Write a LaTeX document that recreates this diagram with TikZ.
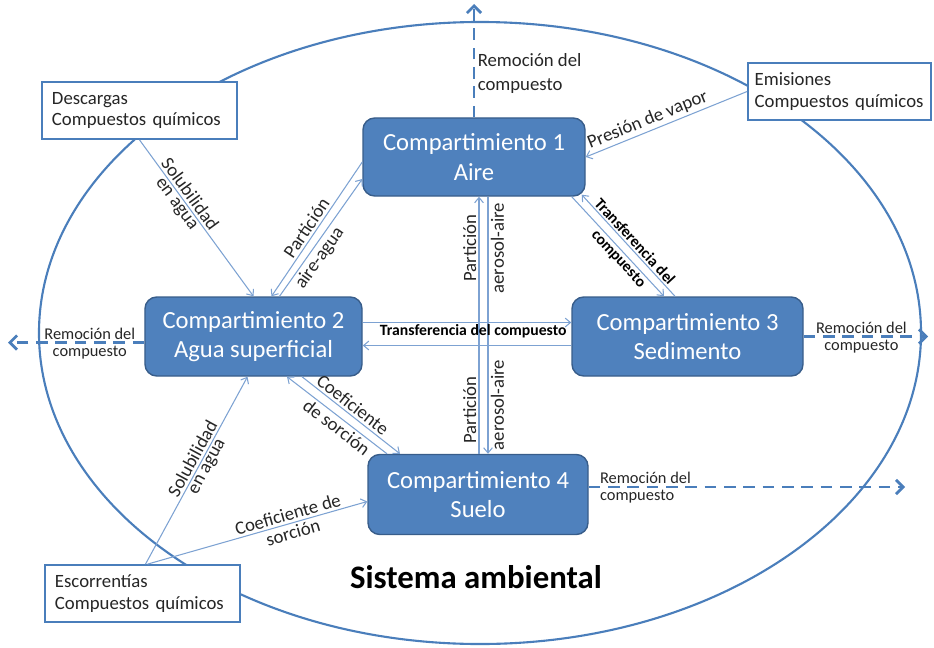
\documentclass[tikz,border=0pt]{standalone}
\usepackage{fontspec}
\setmainfont{Carlito}
\usetikzlibrary{arrows.meta,calc}
\definecolor{boxfill}{RGB}{79,129,189}
\definecolor{boxline}{RGB}{56,93,138}
\definecolor{ringblue}{RGB}{74,126,187}
\definecolor{connblue}{RGB}{125,162,210}
\definecolor{labelgray}{RGB}{38,38,38}
\begin{document}
\begin{tikzpicture}[x=0.03cm,y=-0.03cm,
  comp/.style={draw=boxline, line width=1.2pt, fill=boxfill, rounded corners=10pt,
    text=white, align=center, font=\fontsize{21}{25}\selectfont,
    minimum height=2.37cm, inner sep=0pt},
  src/.style={draw=ringblue, line width=1.5pt, fill=white, text=labelgray, align=left,
    font=\fontsize{16}{18.5}\selectfont, minimum height=1.71cm, inner xsep=0.3cm, inner ysep=0pt},
  conn/.style={draw=connblue, line width=0.9pt, >={Straight Barb[length=4.5pt,width=7.5pt]}},
  lab/.style={font=\fontsize{16}{18}\selectfont, text=labelgray, inner sep=2pt},
  blab/.style={font=\bfseries\fontsize{13.4}{15}\selectfont, text=black, inner sep=1.5pt},
  rem/.style={draw=ringblue, line width=2.4pt, dash pattern=on 10pt off 6.5pt,
    >={Straight Barb[length=6pt,width=12pt]}},
  remlab/.style={font=\fontsize{14}{15}\selectfont, text=labelgray, inner sep=1.5pt},
  ring/.style={draw=ringblue, line width=1.8pt}
]
\useasboundingbox (0,0) rectangle (934,647);

% environmental system boundary
\draw[ring] (480,333) ellipse [x radius=13.23cm, y radius=9.33cm];

% compartments
\node[comp, minimum width=6.66cm, minimum height=2.34cm] (c1) at (474,157) {Compartimiento 1\\Aire};
\node[comp, minimum width=6.51cm] (c2) at (253.5,336.5) {Compartimiento 2\\Agua superficial};
\node[comp, minimum width=6.93cm] (c3) at (687.5,336.5) {Compartimiento 3\\Sedimento};
\node[comp, minimum width=6.6cm, minimum height=2.4cm] (c4) at (478,494.5) {Compartimiento 4\\Suelo};

% sources
\node[src, text width=5.25cm] (desc) at (139.5,110.5) {Descargas\\Compuestos químicos};
\node[src, inner xsep=0.2cm, text width=5.09cm] (emis) at (839.5,91.5) {Emisiones\\\mbox{Compuestos químicos}};
\node[src, text width=5.25cm] (esc) at (142.5,593.5) {Escorrentías\\Compuestos químicos};

% Descargas -> C2
\draw[conn,->] (desc.south) -- (c2.north)
  node[lab,pos=0.38,above,sloped] {Solubilidad}
  node[lab,pos=0.38,below,sloped] {en agua};

% C1 <-> C2
\draw[conn,<-] ($(c2.north)+(18,0)$) -- ($(c1.west)+(0,5)$)
  node[lab,pos=0.47,above,sloped] {Partición};
\draw[conn,->] ($(c2.north)+(26,0)$) -- ($(c1.west)+(0,22)$)
  node[lab,pos=0.38,below,sloped] {aire-agua};

% C1 <-> C4
\draw[conn,->] ($(c4.north)+(1,0)$) -- ($(c1.south)+(5,0)$)
  node[lab,pos=0.80,above,sloped] {Partición}
  node[lab,pos=0.17,above,sloped] {Partición};
\draw[conn,<-] ($(c4.north)+(10,0)$) -- ($(c1.south)+(14,0)$)
  node[lab,pos=0.80,below,sloped] {aerosol-aire}
  node[lab,pos=0.19,below,sloped] {aerosol-aire};

% C2 <-> C3
\draw[conn,->] ($(c2.east)+(0,-14)$) -- ($(c3.west)+(0,-14)$)
  node[blab,pos=0.53,below] {Transferencia del compuesto};
\draw[conn,->] ($(c3.west)+(0,9)$) -- ($(c2.east)+(0,9)$);

% C1 <-> C3
\draw[conn,->] ($(c1.south east)+(-14,0)$) -- ($(c3.north)+(-23.5,0)$)
  node[blab,pos=0.57,below,sloped] {compuesto};
\draw[conn,<-] ($(c1.south east)+(-4,-2)$) -- ($(c3.north)+(-12.5,0)$)
  node[blab,pos=0.51,above,sloped] {Transferencia del};

% Emisiones -> C1
\draw[conn,<-] (c1.east) -- (emis.west)
  node[lab,pos=0.41,above,sloped] {Presión de vapor};

% C2 <-> C4
\draw[conn,<-] ($(c2.south)+(33.5,0)$) -- ($(c4.north)+(-91,0)$)
  node[lab,pos=0.555,below,sloped] {de sorción};
\draw[conn,->] ($(c2.south)+(48.5,0)$) -- ($(c4.north)+(-78,0)$)
  node[lab,pos=0.46,above,sloped] {Coeficiente};

% Escorrentias -> C2, C4
\draw[conn,->] ($(esc.north)+(3,0)$) -- ($(c2.south)+(-6,0)$)
  node[lab,pos=0.54,above,sloped] {Solubilidad}
  node[lab,pos=0.54,below,sloped] {en agua};
\draw[conn,->] ($(esc.north)+(5,0)$) -- ($(c4.west)+(0,7)$)
  node[lab,pos=0.65,above,sloped] {Coeficiente de}
  node[lab,pos=0.65,below,sloped] {sorción};

% removal arrows
\coordinate (topend) at (474,4);
\coordinate (leftend) at (8,342.5);
\coordinate (rightend) at (928,336.5);
\coordinate (soilend) at (905,487);
\draw[rem,->] (c1.north) -- (topend)
  node[lab,pos=0.39,right,align=left,font=\fontsize{16}{20.5}\selectfont] {Remoción del\\compuesto};
\draw[rem,->] ($(c2.west)+(0,6)$) -- (leftend)
  node[remlab,pos=0.4,above] {Remoción del}
  node[remlab,pos=0.4,below] {compuesto};
\draw[rem,->] (c3.east) -- (rightend)
  node[remlab,pos=0.464,above] {Remoción del}
  node[remlab,pos=0.464,below] {compuesto};
\draw[rem,->] ($(c4.east)+(0,-7.5)$) -- (soilend)
  node[remlab,pos=0,above right,xshift=7pt] {Remoción del}
  node[remlab,pos=0,below right,xshift=7pt] {compuesto};

% title
\node[font=\bfseries\fontsize{28}{32}\selectfont, text=black] (title) at (476,577) {Sistema ambiental};
\end{tikzpicture}
\end{document}
